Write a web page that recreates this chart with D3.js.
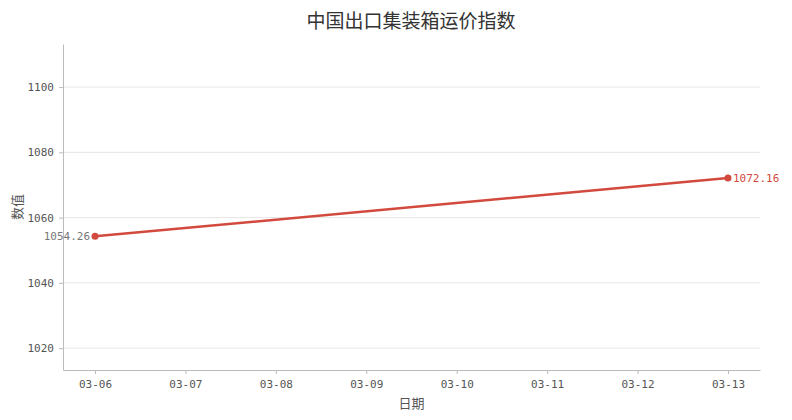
<!DOCTYPE html>
<html>
<head>
<meta charset="utf-8">
<script src="https://cdn.jsdelivr.net/npm/d3@7"></script>
<style>
  body { margin: 0; background: #fff; }
  .axis text { font-family: "DejaVu Sans Mono", "Noto Sans CJK SC", monospace; font-size: 11px; fill: #555; }
  .axis line, .axis path { stroke: #bbb; }
  .grid line { stroke: #e6e6e6; }
  .cjk { font-family: "Noto Sans CJK SC", sans-serif; }
</style>
</head>
<body>
<svg id="chart"></svg>
<script>
// data
const dates = ["03-06", "03-07", "03-08", "03-09", "03-10", "03-11", "03-12", "03-13"];
const pointDates = ["03-06", "03-13"];
const pointValues = [1054.26, 1072.16];
const yTicks = [1020, 1040, 1060, 1080, 1100];

const width = 792, height = 420;
const margin = {top: 44, right: 32, bottom: 50, left: 63};
const innerW = width - margin.left - margin.right;
const innerH = height - margin.top - margin.bottom;

const svg = d3.select('#chart').attr('width', width).attr('height', height);
const chart = svg.append('g').attr('transform', `translate(${margin.left},${margin.top})`);

// x as day index, padded a bit on each side
const xScale = d3.scaleLinear().domain([-0.354, dates.length - 1 + 0.354]).range([0, innerW]);
const yScale = d3.scaleLinear().domain([1013.3, 1113.2]).range([innerH, 0]);

// gridlines
chart.append('g').attr('class', 'grid')
  .selectAll('line').data(yTicks).join('line')
  .attr('x1', 0).attr('x2', innerW)
  .attr('y1', d => yScale(d)).attr('y2', d => yScale(d));

const xAxis = d3.axisBottom(xScale)
  .tickValues(d3.range(dates.length))
  .tickFormat(i => dates[i])
  .tickSize(4).tickPadding(6).tickSizeOuter(0);
const yAxis = d3.axisLeft(yScale)
  .tickValues(yTicks).tickFormat(d3.format('d'))
  .tickSize(4).tickPadding(5).tickSizeOuter(0);

chart.append('g').attr('class', 'axis x-axis')
  .attr('transform', `translate(0,${innerH})`).call(xAxis);
chart.append('g').attr('class', 'axis y-axis').call(yAxis);

// line + markers
const pts = pointDates.map((d, i) => ({x: dates.indexOf(d), y: pointValues[i]}));
const line = d3.line().x(d => xScale(d.x)).y(d => yScale(d.y));
chart.append('path').datum(pts)
  .attr('d', line).attr('fill', 'none')
  .attr('stroke', '#d24a3e').attr('stroke-width', 2.5);
chart.selectAll('.point').data(pts).join('circle')
  .attr('class', 'point')
  .attr('cx', d => xScale(d.x)).attr('cy', d => yScale(d.y))
  .attr('r', 3.5).attr('fill', '#d24a3e');

// end labels
const labelFont = '"DejaVu Sans Mono", monospace';
chart.append('text')
  .attr('x', xScale(pts[0].x) - 5).attr('y', yScale(pts[0].y)).attr('dy', '0.35em')
  .attr('text-anchor', 'end')
  .style('font-family', labelFont)
  .style('font-size', '11px').attr('fill', '#777')
  .text(pointValues[0].toFixed(2));
chart.append('text')
  .attr('x', xScale(pts[1].x) + 5).attr('y', yScale(pts[1].y)).attr('dy', '0.35em')
  .style('font-family', labelFont)
  .style('font-size', '11px').attr('fill', '#d24a3e')
  .text(pointValues[1].toFixed(2));

// titles
svg.append('text').attr('class', 'cjk')
  .attr('x', width / 2 + 15).attr('y', 28).attr('text-anchor', 'middle')
  .style('font-size', '19px').attr('fill', '#333')
  .text('中国出口集装箱运价指数');
svg.append('text').attr('class', 'cjk')
  .attr('x', margin.left + innerW / 2).attr('y', 408).attr('text-anchor', 'middle')
  .style('font-size', '13px').attr('fill', '#555')
  .text('日期');
svg.append('text').attr('class', 'cjk')
  .attr('transform', `translate(22,${margin.top + innerH / 2}) rotate(-90)`)
  .attr('text-anchor', 'middle')
  .style('font-size', '13px').attr('fill', '#555')
  .text('数值');
</script>
</body>
</html>
